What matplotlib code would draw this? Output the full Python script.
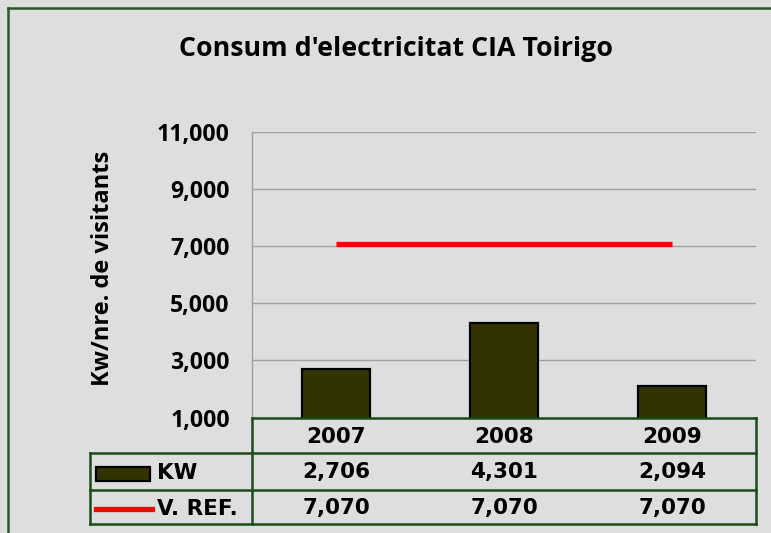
import matplotlib
matplotlib.use("Agg")
import matplotlib.pyplot as plt
from matplotlib.lines import Line2D
from matplotlib.patches import Rectangle
from matplotlib.transforms import blended_transform_factory

years = ["2007", "2008", "2009"]
kw = [2706, 4301, 2094]
vref = [7070, 7070, 7070]
yticks = [1000, 3000, 5000, 7000, 9000, 11000]
title = "Consum d'electricitat CIA Toirigo"
ylabel = "Kw/nre. de visitants"
series_names = ["KW", "V. REF."]

W, H = 771, 533
BG = "#dedede"
GREEN = "#1b4a1b"
OLIVE = "#333300"

fig = plt.figure(figsize=(W / 100, H / 100), dpi=100)
fig.patch.set_facecolor(BG)

def fx(x):
    return x / W

def fy(y):
    return 1 - y / H

# outer border (top & left visible)
fig.add_artist(Line2D([fx(7.5), fx(W)], [fy(8), fy(8)], color="#2a5a2a", lw=1.8))
fig.add_artist(Line2D([fx(7.5), fx(7.5)], [fy(8), fy(H)], color="#2a5a2a", lw=1.8))

top, bot = 132.3, 417.5
left, right = 252, 756
ax = fig.add_axes([fx(left), fy(bot), (right - left) / W, (bot - top) / H])
ax.set_facecolor("none")
ax.set_xlim(-0.5, 2.5)
ax.set_ylim(1000, 11000)
ax.set_yticks(yticks)
ax.set_yticklabels([f"{v:,}" for v in yticks], fontfamily="Open Sans",
                   fontweight="bold", fontsize=16.6)
ax.tick_params(axis="y", length=0, pad=16)
ax.set_xticks([])
for s in ["top", "right", "bottom"]:
    ax.spines[s].set_visible(False)
ax.spines["left"].set_color("#a0a0a0")
ax.spines["left"].set_linewidth(1)
ax.grid(axis="y", color="#a0a0a0", lw=1)
ax.set_axisbelow(True)

xs = list(range(len(years)))
ax.bar(xs, kw, width=0.41, color=OLIVE, edgecolor="black", lw=1.6, zorder=3)
ax.plot(xs, vref, color="#ff0000", lw=3.8, zorder=4, solid_capstyle="butt")

fig.text(fx(396), fy(49), title, ha="center", va="center",
         fontfamily="Open Sans", fontweight="bold", fontsize=19.3)
fig.text(fx(103), fy(268), ylabel, ha="center", va="center", rotation=90,
         fontfamily="Open Sans", fontweight="bold", fontsize=17)

# data table
tr = blended_transform_factory(ax.transData, fig.transFigure)
rows = [418, 453, 490, 524]
lw_t = 1.8
fig.add_artist(Line2D([fx(left), fx(right)], [fy(rows[0])] * 2, color=GREEN, lw=lw_t))
for r in rows[1:]:
    fig.add_artist(Line2D([fx(90), fx(right)], [fy(r)] * 2, color=GREEN, lw=lw_t))
fig.add_artist(Line2D([fx(90), fx(90)], [fy(rows[1]), fy(rows[3])], color=GREEN, lw=lw_t))
fig.add_artist(Line2D([fx(left), fx(left)], [fy(rows[0]), fy(rows[3])], color=GREEN, lw=lw_t))
fig.add_artist(Line2D([fx(right), fx(right)], [fy(rows[0]), fy(rows[3])], color=GREEN, lw=lw_t))

tfont = dict(fontfamily="DejaVu Sans", fontweight="bold", fontsize=15.5)
for i, yr in enumerate(years):
    fig.text(i, fy(437), yr, transform=tr, ha="center", va="center", **tfont)
    fig.text(i, fy(472), f"{kw[i]:,}", transform=tr, ha="center", va="center", **tfont)
    fig.text(i, fy(508), f"{vref[i]:,}", transform=tr, ha="center", va="center", **tfont)

# legend keys
fig.add_artist(Rectangle((fx(96), fy(481)), (150 - 96) / W, 14 / H,
                         facecolor=OLIVE, edgecolor="black", lw=1.6))
fig.add_artist(Line2D([fx(96), fx(152)], [fy(509), fy(509)], color="#ff0000", lw=3.8))
fig.text(fx(157), fy(473), series_names[0], ha="left", va="center", **tfont)
fig.text(fx(157), fy(509), series_names[1], ha="left", va="center", **tfont)

fig.savefig("out.png", dpi=100, facecolor=BG)
